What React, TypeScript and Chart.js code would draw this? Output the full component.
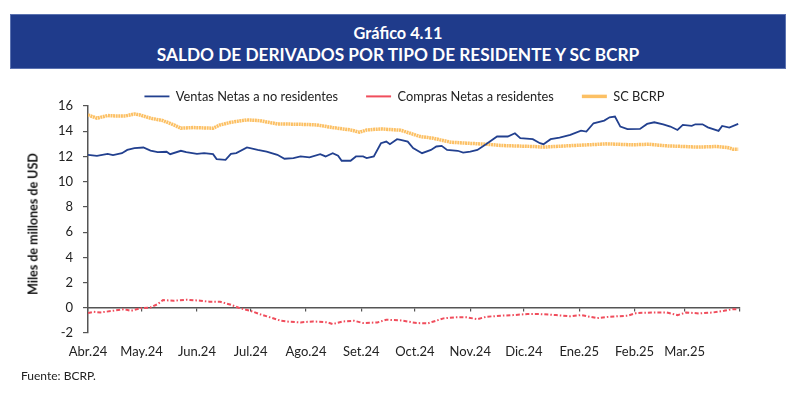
import React, { useEffect, useRef } from "react";
import { Chart, registerables } from "chart.js";
Chart.register(...registerables);

// Day offsets from 1 Apr 2024
const monthStarts = [0, 30, 61, 91, 122, 153, 183, 214, 244, 275, 306, 334, 365];
const monthLabels = ["Abr.24", "May.24", "Jun.24", "Jul.24", "Ago.24", "Set.24", "Oct.24", "Nov.24", "Dic.24", "Ene.25", "Feb.25", "Mar.25", ""];

const seriesNames = ["Ventas Netas a no residentes", "Compras Netas a residentes", "SC BCRP"];

const ventasDays = [0,5,11,14,19,22,26,31,35,39,44,46,52,55,61,65,70,72,77,80,83,89,95,100,106,110,115,119,124,130,133,137,140,142,147,150,154,156,160,164,167,169,173,175,179,182,187,192,195,198,201,207,210,214,218,223,229,235,239,242,249,253,255,259,264,270,276,279,283,289,292,295,298,302,309,313,317,322,326,330,333,338,340,344,347,353,355,359,364];
const ventasValues = [12.13,12.05,12.21,12.11,12.26,12.52,12.66,12.71,12.47,12.34,12.37,12.18,12.45,12.34,12.21,12.26,12.18,11.79,11.73,12.21,12.26,12.71,12.52,12.39,12.13,11.82,11.87,12.0,11.92,12.18,12.0,12.26,12.05,11.66,11.66,12.0,12.0,11.87,12.0,13.05,13.18,12.97,13.37,13.31,13.18,12.66,12.26,12.52,12.79,12.84,12.52,12.45,12.31,12.39,12.52,12.99,13.58,13.58,13.84,13.45,13.37,13.05,12.97,13.37,13.5,13.71,14.05,13.97,14.63,14.84,15.1,15.16,14.37,14.16,14.18,14.58,14.71,14.55,14.37,14.1,14.5,14.42,14.55,14.55,14.31,14.03,14.42,14.29,14.58];

const comprasDays = [0,3,7,14,20,24,29,35,39,42,48,55,63,68,74,80,85,91,96,102,108,113,119,126,134,137,143,149,154,162,167,175,184,190,193,199,205,212,218,223,231,238,246,253,262,270,276,285,292,302,307,317,324,330,335,342,350,356,361,364];
const comprasValues = [-0.42,-0.32,-0.37,-0.24,-0.11,-0.24,-0.05,0.03,0.29,0.61,0.56,0.64,0.56,0.48,0.48,0.24,-0.03,-0.24,-0.5,-0.76,-1.03,-1.11,-1.16,-1.08,-1.16,-1.29,-1.08,-1.03,-1.21,-1.16,-0.95,-1.0,-1.21,-1.24,-1.11,-0.84,-0.76,-0.76,-0.9,-0.71,-0.63,-0.58,-0.5,-0.5,-0.58,-0.68,-0.58,-0.82,-0.71,-0.63,-0.42,-0.37,-0.37,-0.58,-0.37,-0.45,-0.37,-0.24,-0.11,-0.11];

const scDays = [0,5,11,16,21,26,29,35,42,48,52,59,70,74,80,89,96,106,119,128,137,147,152,156,164,175,186,193,203,212,223,231,249,255,268,287,290,305,314,324,342,352,358,361,364];
const scValues = [15.29,15.03,15.24,15.21,15.21,15.37,15.29,15.03,14.84,14.5,14.24,14.29,14.24,14.5,14.71,14.9,14.84,14.58,14.55,14.5,14.29,14.1,13.92,14.1,14.18,14.08,13.58,13.45,13.13,13.05,12.97,12.87,12.79,12.74,12.84,12.97,13.0,12.92,12.97,12.84,12.74,12.79,12.71,12.58,12.58];

const yTicks = [-2, 0, 2, 4, 6, 8, 10, 12, 14, 16];

const toPoints = (xs: number[], ys: number[]) => xs.map((x, i) => ({ x, y: ys[i] }));

const FONT = "Lato";

export default function App() {
  const ref = useRef<HTMLCanvasElement>(null);

  useEffect(() => {
    document.body.style.margin = "0";
    const canvas = ref.current;
    if (!canvas) return;
    const chart = new Chart(canvas, {
      type: "line",
      data: {
        datasets: [
          {
            label: seriesNames[0],
            data: toPoints(ventasDays, ventasValues),
            borderColor: "#22408f",
            backgroundColor: "#22408f",
            borderWidth: 1.8,
            pointRadius: 0,
            tension: 0,
          },
          {
            label: seriesNames[1],
            data: toPoints(comprasDays, comprasValues),
            borderColor: "#f04d5c",
            backgroundColor: "#f04d5c",
            borderWidth: 2,
            borderDash: [4, 2, 1.5, 2],
            pointRadius: 0,
            tension: 0,
          },
          {
            label: seriesNames[2],
            data: toPoints(scDays, scValues),
            borderColor: "#fcc064",
            backgroundColor: "#fcc064",
            borderWidth: 3.5,
            borderDash: [2, 0.6],
            pointRadius: 0,
            tension: 0,
          },
        ],
      },
      options: {
        responsive: false,
        animation: false,
        layout: { padding: { top: 62, left: 57, right: 48, bottom: 0 } },
        plugins: {
          tooltip: { enabled: false },
          legend: {
            position: "top",
            fullSize: true,
            maxHeight: 44,
            labels: {
              usePointStyle: true,
              pointStyle: "line",
              pointStyleWidth: 25,
              padding: 28,
              color: "#222",
              font: { family: FONT, size: 12.8 },
            },
          },
        },
        scales: {
          x: {
            type: "linear",
            position: "bottom",
            min: 0,
            max: 365,
            afterBuildTicks: (scale: any) => {
              scale.ticks = monthStarts.map((v) => ({ value: v }));
            },
            afterFit: (scale: any) => {
              scale.height = 61;
            },
            grid: { display: false, drawTicks: false },
            border: { display: false },
            ticks: {
              padding: 11,
              autoSkip: false,
              maxRotation: 0,
              color: "#222",
              font: { family: FONT, size: 13 },
              callback: (v: any) => {
                const i = monthStarts.indexOf(Number(v));
                return i >= 0 ? monthLabels[i] : "";
              },
            },
          },
          x0: {
            type: "linear",
            axis: "x",
            position: { y: 0 },
            min: 0,
            max: 365,
            afterBuildTicks: (scale: any) => {
              scale.ticks = monthStarts.map((v) => ({ value: v }));
            },
            grid: {
              display: true,
              drawOnChartArea: false,
              drawTicks: true,
              tickLength: 3,
              color: "#555",
              lineWidth: 1.2,
            },
            border: { display: true, color: "#555", width: 1.5 },
            ticks: { display: false },
          },
          y: {
            type: "linear",
            position: "left",
            min: -2,
            max: 16,
            afterBuildTicks: (scale: any) => {
              scale.ticks = yTicks.map((v) => ({ value: v }));
            },
            afterFit: (scale: any) => {
              scale.width = 31;
            },
            grid: {
              display: true,
              drawOnChartArea: false,
              drawTicks: true,
              tickLength: 5,
              color: "#555",
              lineWidth: 1.2,
            },
            border: { display: true, color: "#555", width: 1.5 },
            ticks: {
              padding: 10,
              color: "#222",
              font: { family: FONT, size: 13 },
            },
          },
          yRight: {
            type: "linear",
            axis: "y",
            position: "right",
            min: -2,
            max: 16,
            afterFit: (scale: any) => {
              scale.width = 12;
            },
            grid: { display: false, drawTicks: false },
            border: { display: false },
            ticks: { display: false },
          },
        },
      },
    } as any);
    return () => chart.destroy();
  }, []);

  return (
    <div style={{ position: "relative", width: 800, height: 394, background: "#fff", overflow: "hidden", fontFamily: FONT }}>
      <canvas ref={ref} width={800} height={394} style={{ position: "absolute", left: 0, top: 0, width: 800, height: 394 }} />
      <div
        style={{
          position: "absolute",
          left: 10,
          top: 14,
          width: 776,
          height: 55,
          background: "#1f3b8b",
          border: "1px solid #5b72b0",
          boxSizing: "border-box",
          color: "#fff",
          fontWeight: 700,
          textAlign: "center",
        }}
      >
        <div style={{ position: "absolute", left: 0, right: 0, top: 8, fontSize: 16.3, lineHeight: "20px" }}>Gráfico 4.11</div>
        <div style={{ position: "absolute", left: 0, right: 0, top: 29, fontSize: 17.25, lineHeight: "22px" }}>
          SALDO DE DERIVADOS POR TIPO DE RESIDENTE Y SC BCRP
        </div>
      </div>
      <div
        style={{
          position: "absolute",
          left: 33,
          top: 224,
          transform: "translate(-50%, -50%) rotate(-90deg)",
          whiteSpace: "nowrap",
          fontWeight: 700,
          fontSize: 12.5,
          color: "#111",
        }}
      >
        Miles de millones de USD
      </div>
      <div style={{ position: "absolute", left: 21, top: 368, fontSize: 12, color: "#222" }}>Fuente: BCRP.</div>
    </div>
  );
}
